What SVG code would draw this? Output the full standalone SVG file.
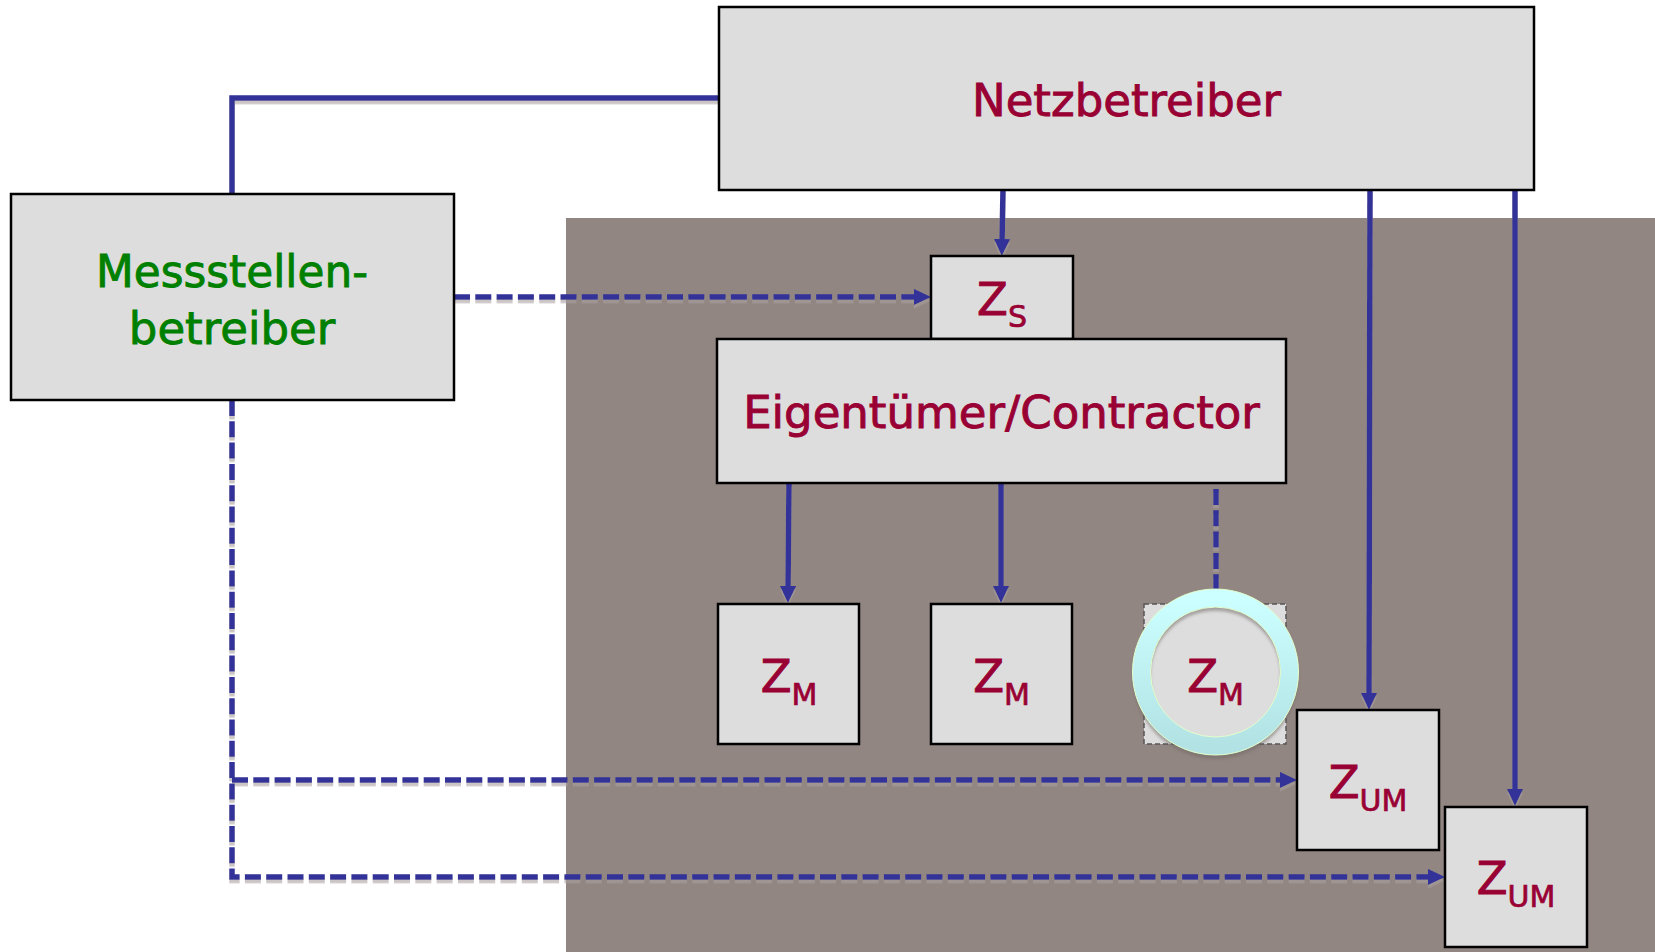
<svg xmlns="http://www.w3.org/2000/svg" width="1655" height="952" viewBox="0 0 1655 952">
  <style>
    .box { fill: #dddddd; stroke: #000000; stroke-width: 2.5; }
    .lbl { font-family: "DejaVu Sans", "Liberation Sans", sans-serif; font-size: 45px; fill: #990033; stroke: #990033; stroke-width: 0.9; text-anchor: middle; }
    .grn { fill: #008000; stroke: #008000; }
    .sub { font-size: 30px; stroke-width: 0.7; }
    .con { fill: none; stroke: #333399; stroke-width: 5.5; }
    .dash { stroke-dasharray: 16 5.3; }
  </style>
  <defs>
    <marker id="arrow" markerUnits="userSpaceOnUse" markerWidth="17" markerHeight="16" refX="4" refY="8" orient="auto">
      <path d="M0,0 L17,8 L0,16 Z" fill="#333399"/>
    </marker>
    <filter id="lineShadow" filterUnits="userSpaceOnUse" x="0" y="0" width="1655" height="952">
      <feDropShadow dx="0" dy="3.5" stdDeviation="0" flood-color="#a8a09e" flood-opacity="0.6"/>
    </filter>
    <filter id="ringShadow" x="-20%" y="-20%" width="140%" height="140%">
      <feDropShadow dx="0" dy="4" stdDeviation="1.5" flood-color="#6e6664" flood-opacity="0.5"/>
    </filter>
    <linearGradient id="ringFill" x1="0" y1="0" x2="0" y2="1">
      <stop offset="0" stop-color="#ccffff"/>
      <stop offset="1" stop-color="#b2e2e4"/>
    </linearGradient>
  </defs>

  <rect width="1655" height="952" fill="#ffffff"/>
  <!-- site area -->
  <rect x="566" y="218" width="1089" height="734" fill="#928682"/>

  <!-- connectors -->
  <g id="connectors" filter="url(#lineShadow)">
    <path class="con" d="M232,194 V98 H719"/>
    <path class="con dash" d="M454,297 H918" marker-end="url(#arrow)"/>
    <path class="con" d="M1003,190 L1002,243" marker-end="url(#arrow)"/>
    <path class="con" d="M1370,190 L1369,697" marker-end="url(#arrow)"/>
    <path class="con" d="M1515,190 V793" marker-end="url(#arrow)"/>
    <path class="con" d="M789,483 L788,590" marker-end="url(#arrow)"/>
    <path class="con" d="M1001,483 V590" marker-end="url(#arrow)"/>
    <path class="con dash" d="M1216,489 V590"/>
    <path class="con dash" d="M232,400 V877 H1432" marker-end="url(#arrow)"/>
    <path class="con dash" d="M232,780 H1284" marker-end="url(#arrow)"/>
  </g>

  <g id="netzbetreiber">
    <rect class="box" x="719" y="7" width="815" height="183"/>
    <text class="lbl" x="1126.5" y="116">Netzbetreiber</text>
  </g>

  <g id="messstellenbetreiber">
    <rect class="box" x="11" y="194" width="443" height="206"/>
    <text class="lbl grn" x="232" y="287" textLength="272" lengthAdjust="spacingAndGlyphs">Messstellen-</text>
    <text class="lbl grn" x="232" y="344">betreiber</text>
  </g>

  <g id="zaehler-s">
    <rect class="box" x="931" y="256" width="142" height="83"/>
    <text class="lbl" x="1002" y="315">Z<tspan class="sub" dy="12">S</tspan></text>
  </g>

  <g id="eigentuemer">
    <rect class="box" x="717" y="339" width="569" height="144"/>
    <text class="lbl" x="1001.5" y="428">Eigentümer/Contractor</text>
  </g>

  <g id="zaehler-m1">
    <rect class="box" x="718" y="604" width="141" height="140"/>
    <text class="lbl" x="789" y="692">Z<tspan class="sub" dy="13">M</tspan></text>
  </g>

  <g id="zaehler-m2">
    <rect class="box" x="931" y="604" width="141" height="140"/>
    <text class="lbl" x="1001.5" y="692">Z<tspan class="sub" dy="13">M</tspan></text>
  </g>

  <g id="zaehler-m3">
    <rect x="1144" y="604" width="142" height="140" fill="#dddddd" stroke="#555555" stroke-width="1.5" stroke-dasharray="5 3"/>
    <circle cx="1215.5" cy="672" r="74" fill="none" stroke="url(#ringFill)" stroke-width="18" filter="url(#ringShadow)"/>
    <circle cx="1215.5" cy="672" r="83" fill="none" stroke="#e2ffcc" stroke-width="1"/>
    <circle cx="1215.5" cy="672" r="65" fill="none" stroke="#e2ffcc" stroke-width="1"/>
    <text class="lbl" x="1215.5" y="692">Z<tspan class="sub" dy="13">M</tspan></text>
  </g>

  <g id="zaehler-um1">
    <rect class="box" x="1297" y="710" width="142" height="140"/>
    <text class="lbl" x="1368" y="798">Z<tspan class="sub" dy="13">UM</tspan></text>
  </g>

  <g id="zaehler-um2">
    <rect class="box" x="1445" y="807" width="142" height="140"/>
    <text class="lbl" x="1516" y="894">Z<tspan class="sub" dy="13">UM</tspan></text>
  </g>
</svg>
